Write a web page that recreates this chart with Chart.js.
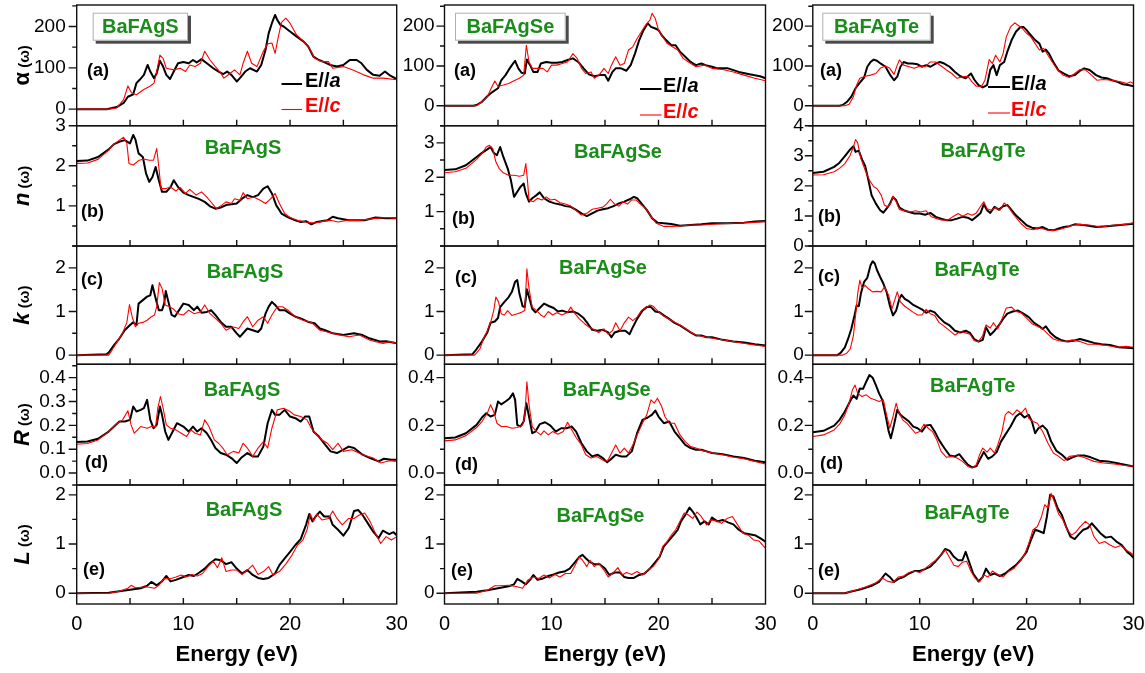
<!DOCTYPE html>
<html>
<head>
<meta charset="utf-8">
<script src="https://cdn.jsdelivr.net/npm/chart.js@4.4.1/dist/chart.umd.min.js"></script>
<style>
  html, body { margin: 0; padding: 0; background: #fff; }
  #wrap { position: relative; width: 1145px; height: 673px; overflow: hidden; }
  #wrap canvas { position: absolute; }
</style>
</head>
<body>
<div id="wrap"></div>
<script>
// ---- axis ticks ----
const energyTicks = [0, 10, 20, 30];
const alphaTicks = [0, 100, 200];
const nTicksS = [1, 2, 3];
const nTicksSe = [1, 2, 3];
const nTicksTe = [0, 1, 2, 3, 4];
const kTicks = [0, 1, 2];
const RTicksS = [0, 0.1, 0.2, 0.3, 0.4];
const RTicksSeTe = [0, 0.2, 0.4];
const LTicks = [0, 1, 2];

const compounds = ['BaFAgS', 'BaFAgSe', 'BaFAgTe'];
const panelTags = ['(a)', '(b)', '(c)', '(d)', '(e)'];
const quantities = ['α', 'n', 'k', 'R', 'L'];

// ---- BaFAgS : [energy eV, value] ----
const alphaS_a = [[0,0],[2.8,0],[3.75,5],[4.4,15],[4.8,30],[5.3,36],[5.6,63],[5.9,71],[6.3,83],[6.65,107],[6.9,91],[7.25,75],[7.5,87],[7.8,117],[8.1,103],[8.4,83],[8.75,73],[9.1,91],[9.5,111],[10,114],[10.5,111],[10.9,119],[11.25,113],[11.7,121],[12.2,111],[12.8,99],[13.3,91],[13.75,85],[14.1,91],[14.5,83],[15,67],[15.3,75],[15.8,91],[16.25,99],[16.9,91],[17.3,107],[17.7,143],[18,184],[18.3,208],[18.6,228],[18.8,216],[19.1,204],[19.4,200],[20,188],[20.6,176],[21.25,164],[21.7,152],[22.2,127],[22.7,119],[23.1,115],[23.75,107],[24.4,103],[25,107],[25.6,119],[26.25,119],[26.7,111],[27.2,95],[27.8,83],[28.4,81],[28.9,91],[29.4,81],[30,73]];
const alphaS_c = [[0,0],[3,0],[3.75,3],[4.4,23],[4.8,56],[5.15,39],[5.6,35],[6.25,47],[6.9,56],[7.25,63],[7.5,91],[7.8,131],[8.1,123],[8.4,99],[9.1,95],[9.7,99],[10.2,91],[10.6,107],[11.1,103],[11.6,111],[12,140],[12.5,119],[13,103],[13.4,91],[13.8,75],[14.4,87],[14.8,95],[15.3,83],[15.6,111],[16,140],[16.4,111],[16.9,103],[17.5,140],[17.9,158],[18.3,160],[18.6,135],[18.9,175],[19.2,210],[19.6,220],[20,208],[20.6,180],[21.25,164],[21.9,144],[22.3,123],[23,115],[23.6,115],[24,99],[25,103],[25.9,95],[26.9,83],[27.8,75],[28.75,75],[30,71]];
const nS_a = [[0,2.12],[1,2.13],[2,2.22],[3,2.41],[3.5,2.54],[4,2.6],[4.5,2.64],[5,2.56],[5.3,2.77],[5.5,2.66],[5.8,2.31],[6.2,2.22],[6.5,1.81],[6.8,1.6],[7.1,1.72],[7.4,1.97],[7.7,1.64],[8,1.35],[8.4,1.35],[8.8,1.47],[9.1,1.64],[9.5,1.47],[10,1.33],[10.5,1.27],[11,1.22],[11.5,1.17],[12,1.1],[12.5,0.99],[13,0.93],[13.5,0.96],[14,1.02],[14.5,1.04],[15,1.06],[15.5,1.18],[16,1.27],[16.5,1.22],[17,1.27],[17.5,1.43],[17.9,1.49],[18.3,1.31],[18.7,1.02],[19.2,0.81],[19.7,0.73],[20.5,0.64],[21,0.6],[21.5,0.62],[22,0.54],[22.5,0.6],[23.5,0.64],[24,0.73],[24.5,0.69],[25.5,0.64],[27,0.64],[28,0.71],[29,0.69],[30,0.69]];
const nS_c = [[0,2.06],[1,2.07],[2,2.16],[3,2.39],[3.5,2.54],[4,2.64],[4.4,2.71],[4.7,2.56],[4.9,2.06],[5.3,2.02],[5.8,2.13],[6.3,2.17],[6.8,2.14],[7.2,2.14],[7.5,2.43],[7.7,1.97],[7.9,1.43],[8.3,1.43],[8.8,1.47],[9.3,1.37],[9.7,1.46],[10.2,1.31],[10.6,1.41],[11.2,1.27],[11.7,1.35],[12.2,1.22],[12.7,1.06],[13.1,0.93],[13.6,1.02],[14,1.1],[14.5,1.06],[14.8,1.18],[15.3,1.14],[15.6,1.33],[16,1.18],[16.6,1.22],[17.2,1.14],[17.7,1.06],[18.2,1.18],[18.6,1.31],[19,1.06],[19.5,0.81],[20,0.71],[20.7,0.64],[21.5,0.6],[22,0.58],[22.5,0.58],[23.2,0.62],[23.8,0.64],[24.5,0.6],[25.3,0.64],[26.5,0.64],[28,0.69],[29,0.71],[30,0.69]];
const kS_a = [[0,0],[2.8,0.02],[3,0.06],[3.5,0.23],[4,0.38],[4.5,0.57],[5,0.69],[5.3,0.75],[5.6,0.69],[5.8,1.18],[6.2,1.26],[6.6,1.34],[6.9,1.37],[7.1,1.6],[7.4,1.3],[7.7,1.03],[8,1.03],[8.2,1.18],[8.35,1.47],[8.6,1.22],[8.9,0.92],[9.2,0.88],[9.6,1.03],[10,1.18],[10.5,1.15],[11,1.03],[11.3,1.11],[11.7,0.97],[12.2,0.99],[12.6,1.03],[13,0.92],[13.5,0.76],[14,0.65],[14.5,0.65],[15,0.5],[15.3,0.42],[15.7,0.53],[16,0.61],[16.5,0.57],[17,0.53],[17.3,0.61],[17.7,0.95],[18,1.11],[18.3,1.22],[18.6,1.15],[19,1.03],[19.5,1.03],[20,0.95],[20.5,0.88],[21,0.84],[21.7,0.76],[22.3,0.73],[22.8,0.61],[23.3,0.57],[24,0.5],[25,0.46],[26,0.5],[26.8,0.46],[27.5,0.38],[28.5,0.31],[29,0.32],[30,0.27]];
const kS_c = [[0,0],[3,0],[3.3,0.11],[3.8,0.31],[4.3,0.5],[4.7,0.75],[4.95,1.16],[5.2,0.88],[5.5,0.65],[5.8,0.73],[6.2,0.75],[6.6,0.8],[7,0.88],[7.3,0.92],[7.5,1.11],[7.75,1.66],[8,1.53],[8.3,1.15],[8.7,1.11],[9.1,1.05],[9.5,0.95],[10,0.92],[10.5,1.03],[11,0.95],[11.6,0.99],[12,1.15],[12.5,0.95],[13,0.84],[13.5,0.73],[14,0.57],[14.6,0.65],[15.2,0.61],[15.6,0.76],[16,0.88],[16.5,0.65],[17,0.8],[17.5,0.88],[17.9,0.73],[18.3,0.92],[18.8,1.11],[19.3,1.11],[19.8,1.03],[20.5,0.88],[21.2,0.8],[22,0.75],[22.8,0.57],[23.5,0.53],[24.5,0.47],[25.5,0.42],[26.5,0.46],[27.5,0.34],[28.7,0.27],[29.4,0.31],[30,0.27]];
const RS_a = [[0,0.13],[1,0.132],[2,0.144],[3,0.174],[3.5,0.195],[4,0.216],[4.5,0.216],[5,0.223],[5.3,0.279],[5.6,0.258],[6,0.265],[6.3,0.272],[6.6,0.307],[6.9,0.223],[7.2,0.188],[7.5,0.202],[7.8,0.279],[8,0.244],[8.3,0.174],[8.6,0.139],[9,0.174],[9.4,0.209],[10,0.195],[10.5,0.174],[10.9,0.195],[11.3,0.174],[11.7,0.188],[12.2,0.167],[12.6,0.139],[13,0.105],[13.5,0.084],[14,0.077],[14.5,0.063],[15,0.042],[15.4,0.063],[16,0.084],[16.5,0.07],[17,0.07],[17.5,0.111],[17.9,0.209],[18.3,0.265],[18.6,0.244],[19,0.244],[19.5,0.265],[20,0.237],[20.5,0.23],[21,0.216],[21.4,0.237],[21.8,0.237],[22.2,0.174],[22.7,0.153],[23.2,0.125],[23.8,0.091],[24.4,0.084],[25,0.098],[25.5,0.111],[26,0.105],[26.8,0.077],[27.5,0.063],[28.3,0.049],[28.8,0.06],[29.5,0.056],[30,0.056]];
const RS_c = [[0,0.121],[1,0.124],[2,0.139],[3,0.174],[3.8,0.209],[4.3,0.223],[4.8,0.261],[5.1,0.202],[5.4,0.167],[6,0.195],[6.6,0.188],[7,0.195],[7.4,0.195],[7.6,0.272],[7.85,0.321],[8.1,0.272],[8.4,0.202],[8.8,0.188],[9.3,0.181],[9.8,0.167],[10.3,0.153],[10.7,0.181],[11.1,0.167],[11.6,0.16],[12,0.223],[12.4,0.195],[12.9,0.139],[13.3,0.125],[13.7,0.105],[14.1,0.077],[14.7,0.091],[15.2,0.084],[15.6,0.125],[16,0.105],[16.5,0.07],[17,0.105],[17.5,0.132],[17.9,0.105],[18.3,0.188],[18.8,0.265],[19.4,0.272],[20,0.258],[20.4,0.244],[21,0.237],[21.6,0.223],[22,0.188],[22.5,0.16],[23,0.139],[23.5,0.125],[24,0.098],[24.5,0.125],[25,0.091],[25.8,0.098],[26.8,0.077],[27.8,0.063],[28.5,0.042],[29.3,0.052],[30,0.049]];
const LS_a = [[0,0],[3,0.01],[4,0.04],[5,0.07],[6,0.1],[6.6,0.15],[7,0.23],[7.5,0.16],[8,0.24],[8.4,0.35],[8.8,0.24],[9.3,0.27],[10,0.33],[10.5,0.37],[11,0.35],[11.5,0.42],[12,0.5],[12.5,0.61],[13,0.69],[13.5,0.67],[14,0.59],[14.5,0.63],[15,0.5],[15.5,0.4],[16,0.47],[16.5,0.37],[17,0.31],[17.5,0.29],[18,0.31],[18.6,0.4],[19,0.57],[19.5,0.71],[20,0.84],[20.5,0.98],[21,1.1],[21.5,1.39],[21.8,1.61],[22.1,1.46],[22.4,1.56],[22.8,1.66],[23.2,1.56],[23.7,1.56],[24,1.39],[24.5,1.29],[25,1.17],[25.5,1.32],[26,1.67],[26.4,1.69],[26.8,1.59],[27.3,1.42],[27.8,1.25],[28.3,1.12],[28.7,1.27],[29.3,1.2],[29.7,1.24],[30,1.18]];
const LS_c = [[0,0],[3,0],[4,0.04],[4.8,0.1],[5.1,0.16],[5.5,0.11],[6.5,0.13],[7.3,0.1],[7.7,0.16],[8.2,0.3],[8.7,0.29],[9.3,0.33],[9.8,0.37],[10.3,0.33],[10.8,0.38],[11.3,0.35],[11.8,0.4],[12.3,0.54],[12.8,0.65],[13.2,0.52],[13.6,0.72],[14,0.44],[14.5,0.47],[15,0.47],[15.5,0.38],[16,0.47],[16.5,0.57],[17,0.38],[17.5,0.44],[18,0.54],[18.4,0.37],[19,0.44],[19.6,0.59],[20.2,0.78],[20.7,0.98],[21.2,1.08],[21.6,1.29],[21.9,1.61],[22.2,1.46],[22.5,1.61],[23,1.49],[23.6,1.52],[24,1.67],[24.4,1.52],[24.9,1.39],[25.5,1.52],[26,1.52],[26.5,1.59],[27,1.63],[27.5,1.46],[28,1.22],[28.5,1.01],[29,1.15],[29.5,1.08],[30,1.15]];

// ---- BaFAgSe ----
const alphaSe_a = [[0,0],[2.7,0],[3,2],[3.5,10],[4,24],[4.5,35],[5,44],[5.3,64],[5.7,77],[6,90],[6.3,102],[6.6,113],[6.9,94],[7.2,83],[7.5,81],[7.7,116],[8,102],[8.3,85],[8.7,85],[9,106],[9.5,110],[10,108],[10.5,108],[11,110],[11.5,115],[12,119],[12.5,110],[13,94],[13.5,79],[14,74],[14.5,77],[15,77],[15.3,63],[15.7,85],[16,94],[16.5,94],[17,88],[17.4,102],[17.8,131],[18.2,165],[18.6,190],[19,207],[19.3,198],[19.7,194],[20,190],[20.3,177],[20.7,165],[21.2,152],[21.6,152],[22,136],[22.5,123],[23,110],[23.5,102],[24,106],[24.4,102],[25,98],[25.5,94],[26.5,94],[27.5,85],[28.5,79],[29.5,74],[30,69]];
const alphaSe_c = [[0,0],[3,0],[3.5,10],[4,23],[4.4,46],[4.7,62],[5,49],[5.5,52],[6,56],[6.5,63],[7,69],[7.4,77],[7.65,152],[7.9,110],[8.2,94],[8.7,94],[9.2,94],[9.6,85],[10,102],[10.5,102],[11,106],[11.5,110],[12,131],[12.4,119],[12.8,94],[13.2,81],[13.7,85],[14,69],[14.5,79],[14.9,94],[15.3,81],[15.6,102],[16,123],[16.4,102],[16.8,106],[17.2,140],[17.6,148],[18,169],[18.4,186],[18.8,203],[19.2,215],[19.4,232],[19.7,219],[20,190],[20.4,173],[20.8,157],[21.3,148],[21.8,140],[22.3,119],[22.8,110],[23.5,98],[24.3,102],[25,94],[26,91],[27,85],[28,77],[29,69],[30,63]];
const nSe_a = [[0,2.21],[1,2.23],[2,2.35],[3,2.59],[3.5,2.71],[4,2.81],[4.3,2.88],[4.6,2.71],[4.9,2.64],[5.2,2.88],[5.5,2.59],[5.9,2.26],[6.2,1.92],[6.5,1.43],[6.8,1.58],[7.1,1.72],[7.4,1.82],[7.6,1.53],[7.9,1.29],[8.2,1.39],[8.6,1.48],[8.9,1.56],[9.3,1.39],[9.8,1.29],[10.3,1.24],[10.8,1.21],[11.3,1.16],[11.8,1.14],[12.3,1.05],[12.8,0.95],[13.3,0.87],[13.8,0.95],[14.3,1.03],[14.8,1.07],[15.3,1.1],[15.8,1.16],[16.3,1.24],[16.8,1.29],[17.3,1.36],[17.7,1.43],[18,1.39],[18.4,1.24],[18.9,1.05],[19.4,0.81],[19.9,0.68],[20.5,0.66],[21.2,0.64],[22,0.59],[23,0.61],[24,0.63],[25,0.66],[26.5,0.66],[28,0.68],[29,0.71],[30,0.73]];
const nSe_c = [[0,2.13],[1,2.16],[2,2.26],[3,2.52],[3.5,2.69],[3.9,2.88],[4.2,2.93],[4.5,2.84],[4.8,2.45],[5.1,2.26],[5.5,2.13],[6,2.06],[6.5,2.06],[7,2.03],[7.4,2.06],[7.6,2.4],[7.75,1.92],[7.9,1.34],[8.3,1.29],[8.7,1.39],[9.1,1.34],[9.5,1.43],[9.9,1.34],[10.3,1.36],[10.8,1.26],[11.3,1.22],[11.8,1.16],[12.3,1.03],[12.8,0.9],[13.3,0.95],[13.8,1.07],[14.3,1.1],[14.8,1.13],[15.2,1.24],[15.5,1.36],[15.9,1.22],[16.3,1.16],[16.7,1.29],[17.1,1.22],[17.5,1.34],[17.9,1.34],[18.3,1.22],[18.8,1.1],[19.3,0.86],[19.8,0.66],[20.5,0.57],[21.3,0.57],[22,0.58],[23,0.61],[24,0.61],[25.5,0.64],[27,0.66],[28.5,0.68],[30,0.71]];
const kSe_a = [[0,0],[2.6,0.02],[3,0.14],[3.5,0.31],[4,0.52],[4.3,0.74],[4.7,0.77],[5,0.85],[5.2,1.1],[5.6,1.22],[6,1.33],[6.3,1.45],[6.6,1.68],[6.8,1.72],[7,1.41],[7.3,1.12],[7.5,1.1],[7.7,1.51],[7.9,1.33],[8.2,1.06],[8.5,0.98],[8.9,1.08],[9.3,1.18],[9.8,1.12],[10.2,1.08],[10.6,1],[11,1.02],[11.5,0.98],[12,1],[12.5,0.95],[13,0.85],[13.4,0.72],[13.8,0.58],[14.3,0.56],[14.8,0.58],[15.3,0.52],[15.6,0.41],[15.9,0.52],[16.4,0.56],[16.9,0.56],[17.3,0.48],[17.6,0.64],[18,0.83],[18.5,1.02],[18.9,1.1],[19.3,1.1],[19.7,1],[20.1,0.98],[20.5,0.91],[21,0.83],[21.5,0.74],[22,0.68],[22.5,0.6],[23,0.52],[23.5,0.45],[24,0.45],[24.5,0.41],[25,0.41],[26,0.35],[27,0.31],[28,0.29],[29,0.25],[30,0.22]];
const kSe_c = [[0,0],[2.8,0],[3,0.05],[3.3,0.14],[3.7,0.41],[4,0.56],[4.3,0.74],[4.6,1.02],[4.8,1.33],[5.05,1.22],[5.3,0.95],[5.6,0.92],[5.9,1.02],[6.3,0.91],[6.8,0.95],[7.2,0.98],[7.5,1.02],[7.7,1.98],[7.9,1.52],[8.2,1.1],[8.6,1.02],[9,0.92],[9.3,0.87],[9.7,1],[10.1,0.92],[10.5,0.97],[11,0.92],[11.5,0.98],[11.8,1.1],[12.1,0.98],[12.6,0.83],[13.1,0.72],[13.5,0.64],[13.9,0.6],[14.4,0.52],[14.9,0.6],[15.3,0.48],[15.7,0.56],[16,0.74],[16.4,0.56],[16.8,0.74],[17.2,0.87],[17.6,0.79],[18,0.87],[18.4,1.02],[18.8,1.08],[19.2,1.15],[19.5,1.12],[19.9,1.02],[20.4,0.91],[21,0.82],[21.6,0.74],[22.2,0.66],[22.8,0.56],[23.5,0.46],[24.5,0.41],[25.5,0.37],[26.5,0.33],[27.5,0.29],[28.5,0.25],[30,0.2]];
const RSe_a = [[0,0.146],[1,0.149],[2,0.167],[3,0.202],[3.5,0.233],[3.9,0.251],[4.3,0.237],[4.7,0.244],[5,0.3],[5.3,0.288],[5.7,0.3],[6.1,0.314],[6.4,0.334],[6.6,0.307],[6.8,0.202],[7.1,0.195],[7.4,0.216],[7.65,0.293],[7.9,0.237],[8.2,0.167],[8.5,0.174],[8.9,0.205],[9.4,0.213],[9.9,0.199],[10.4,0.174],[10.9,0.188],[11.4,0.188],[11.9,0.195],[12.3,0.174],[12.8,0.125],[13.3,0.091],[13.8,0.07],[14.3,0.077],[14.8,0.063],[15.2,0.045],[15.5,0.056],[16,0.077],[16.5,0.07],[17,0.07],[17.5,0.091],[18,0.167],[18.5,0.223],[19,0.233],[19.4,0.245],[19.7,0.262],[20,0.237],[20.5,0.209],[21,0.216],[21.5,0.174],[22,0.146],[22.5,0.118],[23,0.105],[23.5,0.098],[24,0.098],[24.5,0.091],[25,0.084],[26,0.079],[27,0.07],[28,0.063],[29,0.052],[30,0.045]];
const RSe_c = [[0,0.135],[1,0.139],[2,0.157],[3,0.191],[3.5,0.216],[4,0.251],[4.3,0.286],[4.6,0.258],[4.9,0.209],[5.3,0.195],[5.8,0.195],[6.3,0.188],[6.8,0.191],[7.3,0.202],[7.5,0.237],[7.7,0.383],[7.9,0.286],[8.2,0.195],[8.6,0.174],[9,0.16],[9.3,0.177],[9.7,0.16],[10.1,0.174],[10.6,0.163],[11.1,0.174],[11.5,0.213],[11.9,0.181],[12.3,0.149],[12.8,0.118],[13.2,0.077],[13.7,0.063],[14.2,0.07],[14.6,0.06],[15,0.049],[15.3,0.056],[15.7,0.091],[16,0.118],[16.4,0.084],[16.8,0.105],[17.2,0.084],[17.6,0.118],[18,0.16],[18.5,0.209],[18.9,0.244],[19.3,0.307],[19.6,0.293],[19.9,0.314],[20.3,0.279],[20.6,0.237],[21,0.209],[21.5,0.209],[22,0.16],[22.5,0.132],[23,0.111],[23.5,0.105],[24.2,0.093],[25,0.084],[26,0.077],[27,0.066],[28,0.06],[29,0.049],[30,0.038]];
const LSe_a = [[0,0],[3,0.03],[4,0.06],[5,0.1],[6,0.14],[6.5,0.18],[6.8,0.29],[7.2,0.24],[7.6,0.18],[8,0.27],[8.3,0.37],[8.7,0.27],[9.2,0.3],[9.7,0.35],[10.2,0.38],[10.7,0.42],[11.2,0.44],[11.7,0.5],[12.2,0.63],[12.6,0.74],[12.9,0.78],[13.2,0.71],[13.6,0.63],[14,0.59],[14.5,0.59],[15,0.5],[15.4,0.37],[15.9,0.42],[16.4,0.42],[16.8,0.33],[17.2,0.31],[17.7,0.31],[18.2,0.37],[18.7,0.4],[19.2,0.5],[19.7,0.63],[20.1,0.74],[20.5,0.95],[21,1.08],[21.4,1.18],[21.8,1.29],[22.1,1.46],[22.5,1.59],[22.9,1.74],[23.2,1.66],[23.5,1.56],[23.9,1.4],[24.3,1.46],[24.7,1.4],[25,1.54],[25.5,1.46],[26,1.49],[26.5,1.44],[27,1.4],[27.5,1.29],[28,1.22],[28.5,1.2],[29,1.18],[29.5,1.12],[30,1.05]];
const LSe_c = [[0,0],[3,0],[4,0.06],[4.7,0.15],[5.2,0.15],[6,0.16],[6.8,0.13],[7.3,0.1],[7.8,0.27],[8.3,0.33],[8.8,0.3],[9.3,0.37],[9.8,0.31],[10.3,0.38],[10.8,0.33],[11.3,0.4],[11.8,0.4],[12.3,0.61],[12.6,0.74],[12.9,0.67],[13.3,0.54],[13.6,0.67],[14,0.54],[14.4,0.61],[14.9,0.47],[15.3,0.33],[15.8,0.42],[16.2,0.52],[16.6,0.37],[17,0.42],[17.5,0.38],[18,0.44],[18.5,0.37],[19,0.47],[19.5,0.54],[20,0.69],[20.4,0.95],[20.8,1.05],[21.2,1.18],[21.6,1.29],[22,1.46],[22.4,1.63],[22.8,1.59],[23.2,1.52],[23.6,1.65],[24,1.56],[24.5,1.39],[24.9,1.49],[25.4,1.47],[25.9,1.42],[26.4,1.52],[26.9,1.56],[27.4,1.39],[27.9,1.22],[28.4,1.18],[28.9,1.08],[29.4,1.06],[30,0.91]];

// ---- BaFAgTe ----
const alphaTe_a = [[0,0],[2.5,0],[2.8,2],[3.2,10],[3.6,23],[4,44],[4.4,58],[4.8,71],[5.1,98],[5.4,110],[5.7,116],[6,113],[6.4,105],[6.8,98],[7.2,79],[7.6,64],[7.9,73],[8.2,98],[8.5,110],[8.9,106],[9.3,106],[9.8,104],[10.2,98],[10.6,102],[11,98],[11.5,106],[11.9,110],[12.3,106],[12.8,98],[13.3,85],[13.8,74],[14.3,69],[14.8,81],[15.1,66],[15.5,52],[15.9,46],[16.3,52],[16.6,90],[16.9,102],[17.2,77],[17.5,102],[17.9,110],[18.2,136],[18.6,165],[19,186],[19.4,197],[19.7,198],[20,190],[20.4,177],[20.8,165],[21.2,156],[21.5,136],[21.8,141],[22.1,131],[22.5,110],[23,88],[23.5,81],[24,74],[24.5,77],[25,88],[25.4,94],[25.9,90],[26.5,77],[27,71],[27.5,69],[28,64],[28.5,60],[29,54],[29.5,52],[30,49]];
const alphaTe_c = [[0,0],[3,0],[3.4,4],[3.8,23],[4.1,52],[4.4,69],[4.9,74],[5.4,77],[5.9,81],[6.3,94],[6.8,100],[7.2,94],[7.6,79],[7.9,102],[8.1,115],[8.5,102],[9,98],[9.5,94],[10,100],[10.5,98],[11,110],[11.5,110],[12,100],[12.5,90],[13,81],[13.5,69],[14,73],[14.5,74],[14.9,60],[15.3,49],[15.8,49],[16.1,64],[16.5,116],[16.8,106],[17.1,127],[17.5,110],[17.8,131],[18.1,173],[18.5,198],[18.9,208],[19.2,202],[19.6,194],[20,182],[20.4,173],[20.8,156],[21.2,140],[21.6,144],[22,127],[22.4,110],[22.9,90],[23.4,77],[24,71],[24.5,81],[25,91],[25.5,90],[26,79],[26.6,64],[27.2,66],[28,64],[28.8,60],[29.4,56],[29.7,60],[30,56]];
const nTe_a = [[0,2.43],[1,2.47],[2,2.63],[2.5,2.77],[3,2.99],[3.5,3.21],[3.8,3.32],[4,3.13],[4.3,3.17],[4.6,2.88],[4.9,2.66],[5.2,2.19],[5.5,1.69],[5.9,1.41],[6.3,1.19],[6.6,1.11],[6.9,1.24],[7.2,1.39],[7.5,1.63],[7.8,1.52],[8.1,1.28],[8.5,1.19],[9,1.13],[9.5,1.08],[10,1.08],[10.5,1.04],[11,1.1],[11.5,0.97],[12,0.91],[12.5,0.86],[13,0.86],[13.5,0.91],[14,0.97],[14.5,0.94],[14.9,0.86],[15.3,0.97],[15.7,1.1],[16,1.39],[16.3,1.19],[16.6,1.1],[17,1.3],[17.4,1.21],[17.8,1.32],[18.2,1.36],[18.6,1.19],[19,1.02],[19.5,0.86],[20,0.69],[20.5,0.61],[21,0.58],[21.5,0.63],[22,0.54],[22.5,0.52],[23,0.58],[23.5,0.63],[24,0.66],[24.5,0.72],[25.5,0.69],[26.5,0.63],[27.5,0.66],[28.5,0.69],[29.5,0.72],[30,0.74]];
const nTe_c = [[0,2.36],[1,2.37],[2,2.47],[2.5,2.58],[3,2.74],[3.5,3.02],[3.8,3.3],[4,3.54],[4.2,3.43],[4.5,2.91],[4.9,2.52],[5.3,2.19],[5.7,1.97],[6,1.91],[6.4,1.69],[6.7,1.36],[7,1.3],[7.3,1.43],[7.5,1.66],[7.8,1.47],[8.1,1.21],[8.6,1.17],[9.1,1.13],[9.6,1.17],[10.1,1.13],[10.6,1.17],[11.1,0.97],[11.6,0.91],[12.1,0.86],[12.6,0.86],[13.1,0.97],[13.6,1.08],[14,0.99],[14.5,1.08],[14.9,1.02],[15.3,1.1],[15.7,1.32],[16,1.47],[16.3,1.24],[16.7,1.19],[17.1,1.28],[17.5,1.19],[17.9,1.43],[18.3,1.3],[18.7,1.08],[19.1,0.91],[19.5,0.74],[20,0.58],[20.6,0.54],[21.2,0.61],[21.8,0.54],[22.4,0.52],[23,0.54],[23.6,0.61],[24.3,0.69],[25,0.72],[26,0.69],[27,0.63],[28,0.69],[29,0.71],[30,0.77]];
const kTe_a = [[0,0],[2.3,0],[2.6,0.05],[3,0.18],[3.3,0.37],[3.6,0.6],[3.9,0.91],[4.1,1.14],[4.3,1.12],[4.5,1.41],[4.8,1.68],[5.1,1.77],[5.4,2.06],[5.6,2.15],[5.8,2.1],[6,1.95],[6.3,1.79],[6.6,1.64],[6.9,1.45],[7.2,1.14],[7.5,0.91],[7.8,1.02],[8.1,1.29],[8.3,1.38],[8.6,1.29],[9,1.23],[9.4,1.15],[9.8,1.1],[10.2,1.05],[10.6,0.97],[11,1.02],[11.4,0.98],[11.8,0.87],[12.3,0.75],[12.8,0.68],[13.3,0.56],[13.8,0.52],[14.3,0.56],[14.7,0.51],[15.1,0.37],[15.5,0.31],[15.9,0.35],[16.2,0.64],[16.6,0.46],[17,0.56],[17.4,0.68],[17.8,0.83],[18.2,0.95],[18.7,1],[19.2,1.02],[19.7,0.95],[20.2,0.87],[20.7,0.74],[21.2,0.66],[21.5,0.6],[21.8,0.66],[22.2,0.52],[22.7,0.41],[23.2,0.35],[23.8,0.31],[24.4,0.33],[25,0.37],[25.6,0.33],[26.3,0.28],[27,0.25],[27.8,0.23],[28.6,0.18],[29.4,0.17],[30,0.16]];
const kTe_c = [[0,0],[2.8,0],[3.2,0.05],[3.5,0.14],[3.8,0.45],[4,0.91],[4.2,1.41],[4.4,1.72],[4.6,1.54],[4.9,1.6],[5.2,1.52],[5.6,1.45],[6,1.46],[6.4,1.45],[6.7,1.56],[7.1,1.37],[7.4,1.06],[7.7,1.29],[7.9,1.45],[8.2,1.22],[8.6,1.12],[9,1.05],[9.4,0.98],[9.8,0.92],[10.2,0.92],[10.6,1.05],[11,0.95],[11.4,0.91],[11.8,0.75],[12.3,0.66],[12.8,0.56],[13.3,0.46],[13.8,0.54],[14.3,0.51],[14.7,0.48],[15.1,0.33],[15.5,0.31],[15.9,0.45],[16.2,0.69],[16.6,0.62],[16.9,0.74],[17.3,0.6],[17.7,0.83],[18.1,1.08],[18.6,1.1],[19,1],[19.5,0.97],[20,0.85],[20.5,0.72],[21,0.66],[21.5,0.6],[22,0.48],[22.5,0.37],[23,0.33],[23.6,0.31],[24.3,0.35],[25,0.31],[25.7,0.25],[26.5,0.25],[27.5,0.22],[28.5,0.18],[29.3,0.2],[30,0.18]];
const RTe_a = [[0,0.171],[1,0.177],[2,0.199],[2.5,0.223],[3,0.258],[3.5,0.302],[3.8,0.325],[4.1,0.311],[4.4,0.355],[4.7,0.353],[5,0.383],[5.3,0.411],[5.6,0.4],[5.9,0.369],[6.2,0.334],[6.5,0.307],[6.8,0.244],[7.1,0.174],[7.3,0.146],[7.6,0.202],[7.9,0.265],[8.2,0.244],[8.6,0.23],[9,0.216],[9.4,0.195],[9.8,0.188],[10.2,0.174],[10.6,0.199],[11,0.202],[11.4,0.174],[11.8,0.139],[12.3,0.105],[12.8,0.074],[13.3,0.07],[13.7,0.079],[14.1,0.056],[14.5,0.035],[14.9,0.024],[15.3,0.028],[15.7,0.063],[16,0.088],[16.4,0.06],[16.8,0.07],[17.2,0.088],[17.6,0.132],[18,0.16],[18.5,0.195],[19,0.237],[19.4,0.251],[19.8,0.233],[20.2,0.244],[20.5,0.216],[20.8,0.167],[21.1,0.188],[21.5,0.199],[21.9,0.181],[22.3,0.132],[22.8,0.093],[23.3,0.077],[23.8,0.056],[24.3,0.066],[24.8,0.074],[25.4,0.074],[26,0.066],[26.8,0.052],[27.6,0.049],[28.4,0.042],[29.2,0.035],[30,0.028]];
const RTe_c = [[0,0.153],[1,0.16],[2,0.181],[2.5,0.205],[3,0.244],[3.4,0.293],[3.7,0.348],[3.95,0.369],[4.2,0.334],[4.6,0.321],[5,0.328],[5.4,0.314],[5.8,0.307],[6.2,0.3],[6.6,0.307],[6.9,0.244],[7.2,0.188],[7.5,0.237],[7.8,0.293],[8,0.261],[8.4,0.223],[8.8,0.209],[9.2,0.188],[9.6,0.167],[10,0.174],[10.4,0.205],[10.8,0.188],[11.2,0.174],[11.6,0.139],[12,0.091],[12.5,0.066],[13,0.07],[13.5,0.063],[14,0.049],[14.5,0.028],[14.9,0.021],[15.3,0.035],[15.6,0.077],[15.9,0.105],[16.3,0.088],[16.6,0.105],[17,0.084],[17.3,0.118],[17.7,0.174],[18,0.244],[18.3,0.258],[18.7,0.244],[19.1,0.265],[19.5,0.251],[19.9,0.272],[20.2,0.23],[20.6,0.216],[21,0.209],[21.5,0.174],[22,0.125],[22.5,0.084],[23,0.07],[23.5,0.052],[24,0.07],[24.8,0.074],[25.5,0.063],[26.3,0.049],[27.2,0.042],[28.2,0.038],[29.2,0.032],[30,0.028]];
const LTe_a = [[0,0],[3,0],[3.5,0.03],[4.5,0.08],[5.5,0.15],[6.2,0.23],[6.8,0.4],[7.2,0.33],[7.6,0.23],[8,0.29],[8.5,0.33],[9,0.4],[9.5,0.45],[10,0.45],[10.5,0.49],[11,0.54],[11.5,0.65],[12,0.78],[12.4,0.9],[12.8,0.86],[13.2,0.74],[13.6,0.67],[14,0.67],[14.3,0.84],[14.6,0.65],[15,0.4],[15.5,0.24],[15.9,0.33],[16.2,0.5],[16.6,0.37],[17,0.4],[17.5,0.35],[18,0.4],[18.5,0.49],[19,0.57],[19.5,0.69],[20,0.84],[20.4,1.08],[20.8,1.29],[21.2,1.26],[21.6,1.22],[21.9,1.56],[22.2,2],[22.5,1.97],[22.9,1.73],[23.3,1.59],[23.7,1.35],[24.1,1.15],[24.5,1.1],[24.9,1.2],[25.3,1.29],[25.7,1.32],[26.1,1.42],[26.5,1.32],[26.9,1.22],[27.4,1.13],[27.9,1.15],[28.4,1.05],[28.9,0.98],[29.4,0.84],[29.7,0.79],[30,0.72]];
const LTe_c = [[0,0],[3,0],[4,0.06],[5,0.13],[5.8,0.2],[6.5,0.31],[7,0.24],[7.5,0.22],[8,0.33],[8.5,0.35],[9,0.42],[9.5,0.45],[10,0.42],[10.5,0.5],[11,0.59],[11.5,0.67],[12,0.78],[12.4,0.88],[12.8,0.72],[13.2,0.57],[13.6,0.54],[14,0.63],[14.4,0.65],[14.8,0.44],[15.2,0.3],[15.6,0.23],[16,0.37],[16.4,0.33],[16.8,0.45],[17.3,0.38],[17.8,0.33],[18.3,0.44],[18.8,0.5],[19.3,0.63],[19.8,0.78],[20.2,1.01],[20.6,1.29],[21,1.35],[21.4,1.56],[21.7,1.8],[22,1.73],[22.3,2.03],[22.6,1.86],[23,1.61],[23.4,1.49],[23.8,1.29],[24.2,1.18],[24.6,1.24],[25,1.35],[25.5,1.46],[25.9,1.39],[26.3,1.15],[26.8,1.01],[27.3,1.05],[27.8,0.98],[28.3,0.93],[28.8,0.97],[29.3,0.88],[29.7,0.83],[30,0.78]];

// series per column, per row: [E//a, E//c]
const SERIES = [
  [[alphaS_a, alphaS_c], [nS_a, nS_c], [kS_a, kS_c], [RS_a, RS_c], [LS_a, LS_c]],
  [[alphaSe_a, alphaSe_c], [nSe_a, nSe_c], [kSe_a, kSe_c], [RSe_a, RSe_c], [LSe_a, LSe_c]],
  [[alphaTe_a, alphaTe_c], [nTe_a, nTe_c], [kTe_a, kTe_c], [RTe_a, RTe_c], [LTe_a, LTe_c]],
];

// y axis per row and column
function yAxisSpec(c, r) {
  switch (r) {
    case 0: return { min: c === 0 ? -40 : -50, max: c === 0 ? 252 : 253, ticks: alphaTicks, minor: 50, dec: 0 };
    case 1: return { min: 0, max: [3, 3.5, 4][c], ticks: [nTicksS, nTicksSe, nTicksTe][c], minor: 0.5, dec: 0 };
    case 2: return { min: -0.21, max: 2.5, ticks: kTicks, minor: 0.5, dec: 0 };
    case 3: return { min: -0.05, max: 0.456, ticks: c === 0 ? RTicksS : RTicksSeTe, minor: c === 0 ? 0.05 : 0.1, dec: 1 };
    default: return { min: -0.22, max: 2.2, ticks: LTicks, minor: 0.5, dec: 0 };
  }
}

// ---- page layout (px) ----
const ROWS = [[5, 125.7], [125.7, 246], [246, 364.3], [364.3, 485], [485, 604]];
const COLS = [
  { l: 76.7, r: 396.7, pad: 11, box: [92.7, 188], leg: { x0: 281.5, x1: 302, tx: 305, ya: 81, yc: 106.5 },
    tags: [[87, 71], [81, 212], [81, 280], [85, 463], [83, 570]],
    names: [[243, 148], [245, 272], [242, 390], [244, 510]] },
  { l: 444.5, r: 765.5, pad: 10, box: [455, 565.7], leg: { x0: 640, x1: 661.5, tx: 663, ya: 86, yc: 112 },
    tags: [[454, 71], [452, 219], [455, 278], [455, 465], [451, 571]],
    names: [[618, 152.7], [603, 268.3], [606.7, 390], [600.5, 516]] },
  { l: 812.8, r: 1133.5, pad: 9, box: [822.3, 930.7], leg: { x0: 988, x1: 1010, tx: 1011, ya: 84, yc: 110 },
    tags: [[820, 71], [818, 216.7], [818, 276.7], [820, 464], [818, 571]],
    names: [[983, 151.7], [977, 270], [972.7, 386.7], [967, 513]] },
];

const FONT = "'Liberation Sans', Arial, sans-serif";
const GREEN = '#1a8c1a';
Chart.defaults.font.family = FONT;
Chart.defaults.color = '#000';

function richText(ctx, parts, x, y, center) {
  let w = 0;
  for (const p of parts) { ctx.font = p[1]; w += ctx.measureText(p[0]).width; }
  let cx = center ? x - w / 2 : x;
  ctx.textAlign = 'left';
  for (const p of parts) {
    ctx.font = p[1];
    ctx.fillStyle = p[2];
    ctx.fillText(p[0], cx, y);
    cx += ctx.measureText(p[0]).width;
  }
}

// frame, inward energy ticks, outward value ticks and panel labels
const panelDecor = {
  id: 'panelDecor',
  afterDraw(chart) {
    const P = chart.canvas.panel;
    const { ctx, chartArea: a } = chart;
    const xs = chart.scales.x, ys = chart.scales.y;
    const col = COLS[P.c];
    ctx.save();
    ctx.strokeStyle = '#111';
    ctx.lineWidth = 1.4;
    ctx.strokeRect(a.left, a.top, a.right - a.left, a.bottom - a.top);

    ctx.beginPath();
    for (let e = 5; e < 30; e += 5) {
      const px = xs.getPixelForValue(e);
      ctx.moveTo(px, a.bottom); ctx.lineTo(px, a.bottom - 6);
    }
    for (const v of P.spec.ticks) {
      const py = ys.getPixelForValue(v);
      ctx.moveTo(a.left, py); ctx.lineTo(a.left - 8, py);
    }
    const s = P.spec.minor;
    for (let i = Math.ceil(P.spec.min / s - 1e-9); i * s <= P.spec.max + 1e-9; i++) {
      const v = i * s;
      if (P.spec.ticks.some(t => Math.abs(t - v) < 1e-9)) continue;
      const py = ys.getPixelForValue(v);
      ctx.moveTo(a.left, py); ctx.lineTo(a.left - 4.5, py);
    }
    ctx.stroke();

    // page coordinates from here on
    ctx.translate(-P.cvL, -P.cvT);
    ctx.textBaseline = 'middle';

    // panel tag (a)...(e)
    const tag = col.tags[P.r];
    richText(ctx, [[panelTags[P.r], 'bold 18px ' + FONT, '#000']], tag[0], tag[1], false);

    if (P.r === 0) {
      // boxed compound name with drop shadow
      const [b0, b1] = col.box;
      ctx.fillStyle = '#4a4a4a';
      ctx.fillRect(b0 + 3, 15.7, b1 - b0, 28);
      ctx.fillStyle = '#fff';
      ctx.fillRect(b0, 12.7, b1 - b0, 28);
      ctx.strokeStyle = '#b0b0b0';
      ctx.lineWidth = 1;
      ctx.strokeRect(b0 + 0.5, 13.2, b1 - b0 - 1, 27);
      richText(ctx, [[compounds[P.c], 'bold 20px ' + FONT, GREEN]], (b0 + b1) / 2, 27, true);

      // legend
      const L = col.leg;
      ctx.lineWidth = 2;
      ctx.strokeStyle = '#000';
      ctx.beginPath(); ctx.moveTo(L.x0, L.ya + 3); ctx.lineTo(L.x1, L.ya + 3); ctx.stroke();
      richText(ctx, [['E//', 'bold 20px ' + FONT, '#000'], ['a', 'italic bold 20px ' + FONT, '#000']], L.tx, L.ya, false);
      ctx.lineWidth = 1.1;
      ctx.strokeStyle = '#f00';
      ctx.beginPath(); ctx.moveTo(L.x0, L.yc + 3); ctx.lineTo(L.x1, L.yc + 3); ctx.stroke();
      richText(ctx, [['E//', 'bold 20px ' + FONT, '#f00'], ['c', 'italic bold 20px ' + FONT, '#f00']], L.tx, L.yc, false);
    } else {
      const nm = col.names[P.r - 1];
      richText(ctx, [[compounds[P.c], 'bold 20px ' + FONT, GREEN]], nm[0], nm[1], true);
    }

    // rotated quantity title on the first column
    if (P.c === 0) {
      const yc = (ROWS[P.r][0] + ROWS[P.r][1]) / 2;
      ctx.translate(28.5, yc);
      ctx.rotate(-Math.PI / 2);
      ctx.textBaseline = 'alphabetic';
      const letterFont = (P.r === 0 ? 'bold 22px ' : 'italic bold 22px ') + FONT;
      richText(ctx, [[quantities[P.r], letterFont, '#000'], [' (ω)', 'bold 15px ' + FONT, '#000']], 0, 0, true);
    }
    ctx.restore();
  }
};

const wrap = document.getElementById('wrap');

function makePanel(c, r) {
  const col = COLS[c];
  const [top, bottom] = ROWS[r];
  const last = r === ROWS.length - 1;
  const cvL = Math.floor(col.l) - 76;
  const cvT = Math.floor(top) - 14;
  const cvR = Math.ceil(col.r) + 14;
  const cvB = last ? 673 : Math.ceil(bottom) + 14;
  const spec = yAxisSpec(c, r);

  const canvas = document.createElement('canvas');
  canvas.width = cvR - cvL;
  canvas.height = cvB - cvT;
  canvas.style.left = cvL + 'px';
  canvas.style.top = cvT + 'px';
  canvas.style.width = (cvR - cvL) + 'px';
  canvas.style.height = (cvB - cvT) + 'px';
  canvas.panel = { c, r, cvL, cvT, spec };
  wrap.appendChild(canvas);

  const [seriesA, seriesC] = SERIES[c][r];
  new Chart(canvas, {
    type: 'line',
    data: {
      datasets: [
        { label: 'E//a', data: seriesA, borderColor: '#000', borderWidth: 2, order: 1 },
        { label: 'E//c', data: seriesC, borderColor: '#ff0000', borderWidth: 1.1, order: 0 },
      ]
    },
    options: {
      responsive: false,
      animation: false,
      events: [],
      devicePixelRatio: 1,
      layout: {
        autoPadding: false,
        padding: { left: 0, top: top - cvT, right: cvR - col.r, bottom: last ? 0 : cvB - bottom }
      },
      elements: { point: { radius: 0 }, line: { tension: 0, fill: false, borderJoinStyle: 'round' } },
      plugins: { legend: { display: false }, tooltip: { enabled: false } },
      scales: {
        x: {
          type: 'linear', min: 0, max: 30, display: last,
          afterBuildTicks: s => { s.ticks = energyTicks.map(v => ({ value: v })); },
          afterFit: s => {
            s.height = last ? cvB - bottom : 0;
            s.paddingLeft = 0; s.paddingRight = 0;
          },
          grid: { display: false, drawTicks: false },
          border: { display: false },
          ticks: { padding: 8, font: { size: 20 }, color: '#000', maxRotation: 0, autoSkip: false },
          title: { display: true, text: 'Energy (eV)', font: { size: 22, weight: 'bold' }, color: '#000',
                   padding: { top: 0, bottom: 5 } }
        },
        y: {
          type: 'linear', min: spec.min, max: spec.max,
          afterBuildTicks: s => { s.ticks = spec.ticks.map(v => ({ value: v })); },
          afterFit: s => {
            s.width = col.l - cvL;
            s.paddingTop = 0; s.paddingBottom = 0;
          },
          grid: { display: false, drawTicks: false },
          border: { display: false },
          ticks: { padding: col.pad, font: { size: 19 }, color: '#000', autoSkip: false,
                   callback: v => Number(v).toFixed(spec.dec) }
        }
      }
    },
    plugins: [panelDecor]
  });
}

for (let c = 0; c < COLS.length; c++) {
  for (let r = 0; r < ROWS.length; r++) makePanel(c, r);
}
</script>
</body>
</html>
